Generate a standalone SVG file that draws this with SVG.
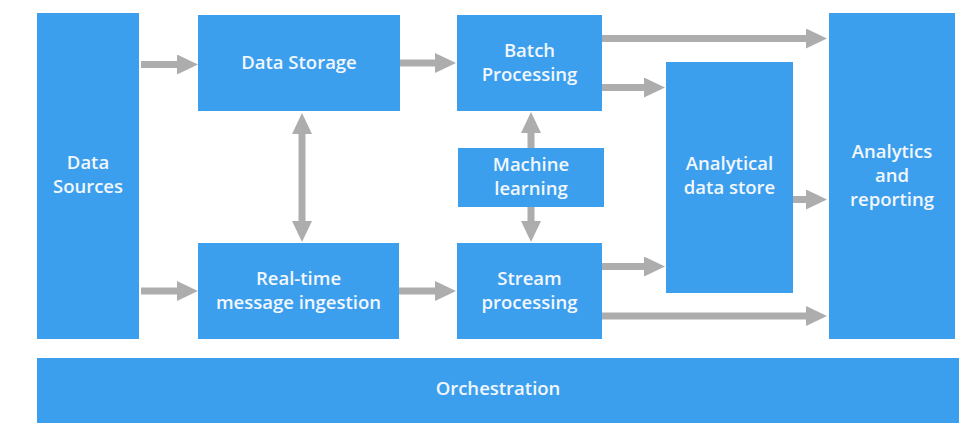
<svg xmlns="http://www.w3.org/2000/svg" width="961" height="433" viewBox="0 0 961 433">
  <style>
    .box { fill: #3c9fee; }
    .lbl { font-family: "Open Sans", "Noto Sans", "Liberation Sans", sans-serif; font-size: 18.5px; font-weight: 600; fill: #f2f7fd; text-anchor: middle; }
    .conn { stroke: #adadad; stroke-width: 7; fill: none; }
  </style>
  <defs>
    <marker id="head" viewBox="0 0 21 20" refX="1" refY="10" markerWidth="21" markerHeight="20" markerUnits="userSpaceOnUse" orient="auto-start-reverse">
      <path d="M0,0 L21,10 L0,20 Z" fill="#adadad"/>
    </marker>
  </defs>
  <rect width="961" height="433" fill="#ffffff"/>

  <g id="connectors">
    <line class="conn" x1="141" y1="64.5" x2="178" y2="64.5" marker-end="url(#head)"/>
    <line class="conn" x1="400" y1="63" x2="436" y2="63" marker-end="url(#head)"/>
    <line class="conn" x1="602" y1="38.5" x2="807" y2="38.5" marker-end="url(#head)"/>
    <line class="conn" x1="602" y1="87.5" x2="645" y2="87.5" marker-end="url(#head)"/>
    <line class="conn" x1="531" y1="148" x2="531" y2="132" marker-end="url(#head)"/>
    <line class="conn" x1="531" y1="207" x2="531" y2="222" marker-end="url(#head)"/>
    <line class="conn" x1="302" y1="133" x2="302" y2="222" marker-start="url(#head)" marker-end="url(#head)"/>
    <line class="conn" x1="141" y1="291" x2="178" y2="291" marker-end="url(#head)"/>
    <line class="conn" x1="399" y1="291" x2="436" y2="291" marker-end="url(#head)"/>
    <line class="conn" x1="602" y1="266.5" x2="645" y2="266.5" marker-end="url(#head)"/>
    <line class="conn" x1="602" y1="316" x2="807" y2="316" marker-end="url(#head)"/>
    <line class="conn" x1="793" y1="199.5" x2="807" y2="199.5" marker-end="url(#head)"/>
  </g>

  <g id="data-sources">
    <rect class="box" x="37" y="13" width="102" height="326"/>
    <text class="lbl" x="88" y="169">Data</text>
    <text class="lbl" x="88" y="193">Sources</text>
  </g>

  <g id="data-storage">
    <rect class="box" x="198" y="15" width="202" height="96"/>
    <text class="lbl" x="299" y="69">Data Storage</text>
  </g>

  <g id="batch-processing">
    <rect class="box" x="457" y="15" width="145" height="96"/>
    <text class="lbl" x="529.5" y="57">Batch</text>
    <text class="lbl" x="529.5" y="81">Processing</text>
  </g>

  <g id="machine-learning">
    <rect class="box" x="458" y="148" width="146" height="59"/>
    <text class="lbl" x="531" y="171">Machine</text>
    <text class="lbl" x="531" y="195">learning</text>
  </g>

  <g id="realtime-ingestion">
    <rect class="box" x="198" y="243" width="201" height="96"/>
    <text class="lbl" x="298.5" y="285">Real-time</text>
    <text class="lbl" x="298.5" y="309">message ingestion</text>
  </g>

  <g id="stream-processing">
    <rect class="box" x="457" y="243" width="145" height="96"/>
    <text class="lbl" x="529.5" y="285">Stream</text>
    <text class="lbl" x="529.5" y="309">processing</text>
  </g>

  <g id="analytical-data-store">
    <rect class="box" x="666" y="62" width="127" height="231"/>
    <text class="lbl" x="729.5" y="170">Analytical</text>
    <text class="lbl" x="729.5" y="194">data store</text>
  </g>

  <g id="analytics-reporting">
    <rect class="box" x="829" y="13" width="126" height="326"/>
    <text class="lbl" x="892" y="158">Analytics</text>
    <text class="lbl" x="892" y="182">and</text>
    <text class="lbl" x="892" y="206">reporting</text>
  </g>

  <g id="orchestration">
    <rect class="box" x="37" y="358" width="922" height="65"/>
    <text class="lbl" x="498" y="395">Orchestration</text>
  </g>
</svg>
